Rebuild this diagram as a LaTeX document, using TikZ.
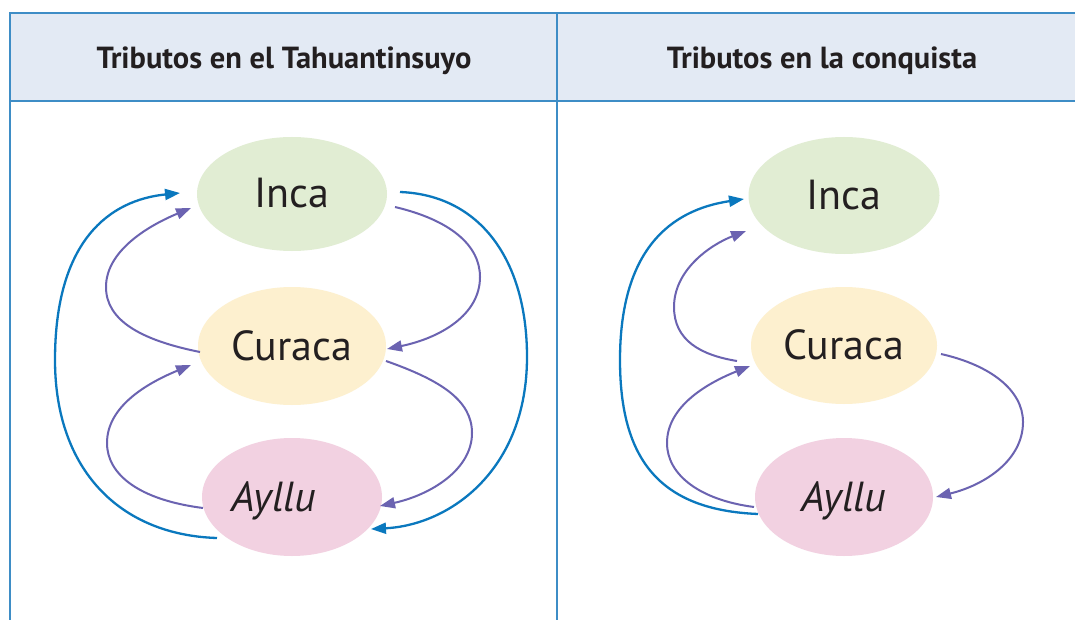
\documentclass[tikz,border=0pt]{standalone}
\usepackage{fontspec}
\setmainfont{PT Sans}
\usetikzlibrary{shapes.geometric,arrows.meta,calc}
\definecolor{hdr}{HTML}{E3EAF4}
\definecolor{framec}{HTML}{3E8DC6}
\definecolor{incag}{HTML}{E1EDD3}
\definecolor{cury}{HTML}{FDF0CF}
\definecolor{aylp}{HTML}{F2D1E1}
\definecolor{bluear}{HTML}{0A78BE}
\definecolor{purpar}{HTML}{6B63B1}
\definecolor{ink}{HTML}{231F20}
\begin{document}
\begin{tikzpicture}[x=1pt,y=-1pt,
  role/.style={ellipse, inner sep=0pt, text=ink, font=\fontsize{42}{42}\selectfont, text height=28pt, text depth=0pt},
  blueflow/.style={draw=bluear, line width=2.3pt, -{Triangle[length=15pt,width=11pt]}},
  purpflow/.style={draw=purpar, line width=2pt, -{Triangle[length=15pt,width=11pt]}},
  head/.style={font=\fontsize{30.5}{30.5}\selectfont\bfseries, text=ink, inner sep=0pt},
  rule/.style={draw=framec, line width=1.6pt}]

\useasboundingbox (0,0) rectangle (1075,620);
\fill[white] (0,0) rectangle (1075,620);
\fill[hdr] (10,13) rectangle (1075,101);
\draw[rule] (1075,13) -- (10,13) -- (10,620);
\draw[rule] (10,101) -- (1075,101);
\draw[rule] (557,13) -- (557,620);

\node[head, anchor=base] (h1) at (284,69) {Tributos en el Tahuantinsuyo};
\node[head, anchor=base] (h2) at (822,69) {Tributos en la conquista};

% left panel
\node[role, fill=incag, minimum width=190pt, minimum height=114pt] (inca) at (292,194) {Inca};
\node[role, fill=cury, minimum width=188pt, minimum height=118pt] (curaca) at (292,346) {Curaca};
\node[role, fill=aylp, minimum width=180pt, minimum height=118pt] (ayllu) at (292,497) {\itshape Ayllu\hspace*{36pt}};

\draw[blueflow] ($(ayllu.center)+(-75,41)$) .. controls (120,535) and (55,470) .. (55,360) .. controls (55,240) and (110,200) .. ($(inca.center)+(-112,-1)$);
\draw[blueflow] ($(inca.center)+(108,-2)$) .. controls (480,195) and (527,260) .. (527,357) .. controls (527,470) and (450,525) .. ($(ayllu.center)+(79,32)$);
\draw[purpflow] ($(curaca.center)+(-92,6)$) .. controls (140,340) and (106,320) .. (106,287) .. controls (106,250) and (150,225) .. ($(inca.center)+(-101,14)$);
\draw[purpflow] ($(inca.center)+(103,13)$) .. controls (450,220) and (480,245) .. (480,277) .. controls (480,315) and (440,338) .. ($(curaca.center)+(95,3)$);
\draw[purpflow] ($(ayllu.center)+(-89,11)$) .. controls (140,500) and (107,475) .. (107,443) .. controls (107,405) and (150,382) .. ($(curaca.center)+(-101,19)$);
\draw[purpflow] ($(curaca.center)+(94,15)$) .. controls (440,380) and (472,400) .. (472,433) .. controls (472,470) and (430,495) .. ($(ayllu.center)+(88,9)$);

% right panel
\node[role, fill=incag, minimum width=191pt, minimum height=117pt] (inca2) at (844,195.5) {Inca};
\node[role, fill=cury, minimum width=186pt, minimum height=117pt] (curaca2) at (844,345.5) {Curaca};
\node[role, fill=aylp, minimum width=178pt, minimum height=118pt] (ayllu2) at (844,497) {\itshape Ayllu};

\draw[blueflow] ($(ayllu2.center)+(-86,17)$) .. controls (660,510) and (620,460) .. (620,360) .. controls (620,250) and (670,210) .. ($(inca2.center)+(-100,3.5)$);
\draw[purpflow] ($(curaca2.center)+(-107,15.5)$) .. controls (700,355) and (674,340) .. (674,307) .. controls (674,270) and (710,245) .. ($(inca2.center)+(-98,35.5)$);
\draw[purpflow] ($(ayllu2.center)+(-90,10)$) .. controls (700,500) and (667,475) .. (667,443) .. controls (667,405) and (710,382) .. ($(curaca2.center)+(-94,20.5)$);
\draw[purpflow] ($(curaca2.center)+(97,8.5)$) .. controls (990,365) and (1023,390) .. (1023,422) .. controls (1023,460) and (985,485) .. ($(ayllu2.center)+(92,0)$);
\end{tikzpicture}
\end{document}
